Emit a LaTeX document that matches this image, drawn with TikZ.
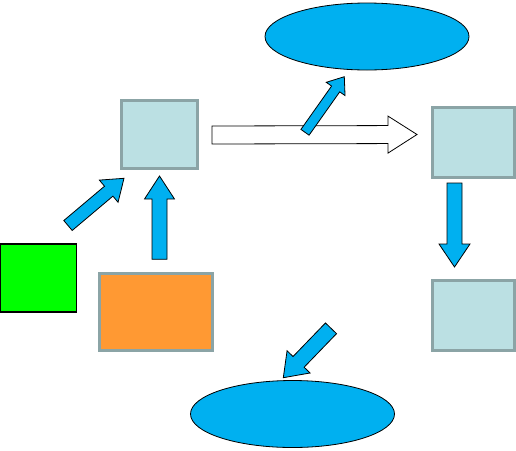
\documentclass[tikz,border=0pt]{standalone}
\usepackage{tikz}
\usetikzlibrary{shapes.geometric, calc}
\definecolor{skyblue}{RGB}{0,176,240}
\definecolor{paleblue}{RGB}{187,224,227}
\definecolor{framegray}{RGB}{139,164,166}
\definecolor{boxorange}{RGB}{255,153,51}
\definecolor{boxgreen}{RGB}{0,255,0}

% block arrow: [style]{tail}{tip}{shaft half width}{head half width}{head length}
\newcommand{\fatarrow}[6][]{%
  \coordinate (fa-b) at ($(#3)!#6!(#2)$);
  \draw[#1] ($(#2)!#4!90:(#3)$) -- ($(fa-b)!#4!-90:(#2)$) -- ($(fa-b)!#5!-90:(#2)$)
    -- (#3) -- ($(fa-b)!#5!90:(#2)$) -- ($(fa-b)!#4!90:(#2)$) -- ($(#2)!#4!-90:(#3)$) -- cycle;}

\begin{document}
\begin{tikzpicture}[x=1pt, y=-1pt,
    pbox/.style={rectangle, draw=framegray, line width=3pt, fill=paleblue,
      inner sep=0pt},
    oval/.style={ellipse, draw=black, line width=0.8pt, fill=skyblue,
      minimum width=204pt, minimum height=67pt, inner sep=0pt},
    bluearrow/.style={draw=black, line width=0.8pt, fill=skyblue, line join=miter},
    whitearrow/.style={draw=black, line width=0.8pt, fill=white, line join=miter},
  ]
    \useasboundingbox (0,0) rectangle (516,450);
    % shapes
    \node[pbox, minimum width=76pt, minimum height=68pt] (sqa) at (159,134) {};
    \node[pbox, minimum width=82pt, minimum height=70pt] (sqb) at (473.5,142) {};
    \node[pbox, minimum width=82pt, minimum height=70pt] (sqc) at (473.5,315) {};
    \node[rectangle, draw=black, line width=1.2pt, fill=boxgreen, inner sep=0pt,
      minimum width=76pt, minimum height=68pt] (grn) at (38.3,278) {};
    \node[pbox, fill=boxorange, minimum width=113pt, minimum height=77pt] (org) at (156,311.7) {};
    \node[oval] (ovtop) at (367,36.5) {};
    \node[oval] (ovbot) at (292.5,414) {};
    % arrow ends
    \coordinate (grnT) at (68,225.5);    \coordinate (grnP) at (124,178.3);
    \coordinate (orgT) at (159.5,259.3); \coordinate (orgP) at (159.5,176);
    \coordinate (midT) at (212,135);     \coordinate (midP) at (417,134.5);
    \coordinate (topT) at (305,132.3);   \coordinate (topP) at (344.3,76.7);
    \coordinate (rgtT) at (454.5,183);   \coordinate (rgtP) at (454.5,267);
    \coordinate (botT) at (331,328.3);   \coordinate (botP) at (283.3,377.7);
    % block arrows
    \fatarrow[bluearrow]{grnT}{grnP}{6.5pt}{14.5pt}{20pt}
    \fatarrow[bluearrow]{orgT}{orgP}{7.5pt}{15pt}{23pt}
    \fatarrow[whitearrow]{midT}{midP}{9pt}{18.5pt}{29pt}
    \fatarrow[bluearrow]{topT}{topP}{5pt}{11.5pt}{15pt}
    \fatarrow[bluearrow]{rgtT}{rgtP}{7.5pt}{15.5pt}{23pt}
    \fatarrow[bluearrow]{botT}{botP}{7.7pt}{16pt}{22pt}
\end{tikzpicture}
\end{document}
